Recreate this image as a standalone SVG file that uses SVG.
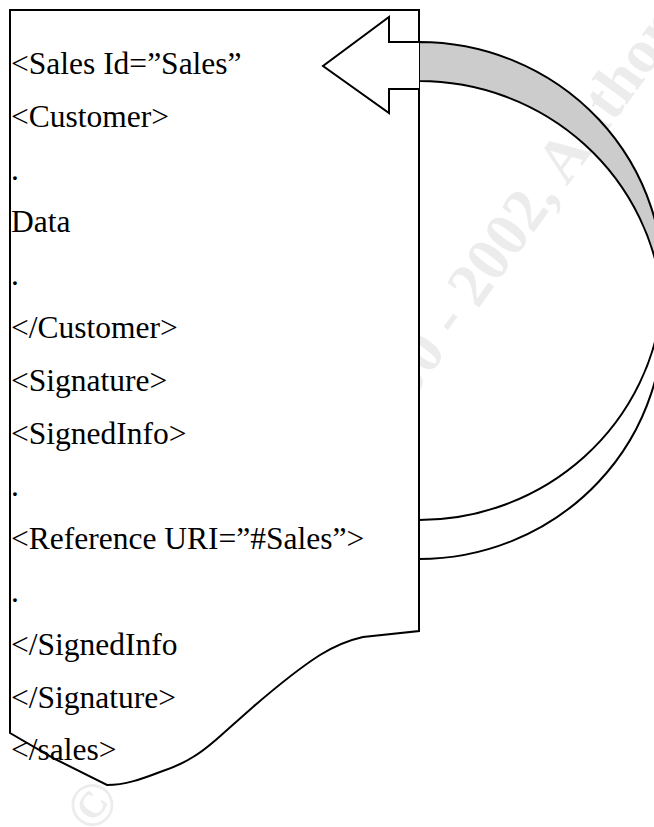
<svg xmlns="http://www.w3.org/2000/svg" width="654" height="827" viewBox="0 0 654 827">
  <style>
    .ln { stroke: #000; stroke-width: 2; stroke-linejoin: miter; }
    .code { font-family: "Liberation Serif", "Times New Roman", serif; font-size: 31.5px; fill: #000; }
    .wm { font-family: "Liberation Serif", "Times New Roman", serif; font-weight: bold; font-size: 62px; fill: #ececec; }
  </style>
  <rect x="0" y="0" width="654" height="827" fill="#fff"/>
  <g id="watermark">
    <text class="wm" x="95" y="836" transform="rotate(-54 95 836)">© SANS Institute 2000 - 2002, Author retains full rights</text>
  </g>
  <g id="document">
    <path class="ln" fill="#fff" d="M10,10 L419,10 L419,631 L363,637 C345,641 333,647 320,655 C298,669 275,688 253,707 C244,715 236,722 227,730 C215,741 205,750 193,757 C182,764 172,768 160,772 C142,779 125,785 107,785 L55,759 L10,733 Z"/>
    <text class="code" x="11" y="74">&lt;Sales Id=”Sales”</text>
    <text class="code" x="11" y="126.8">&lt;Customer&gt;</text>
    <text class="code" x="11" y="179.6">.</text>
    <text class="code" x="11" y="232.4">Data</text>
    <text class="code" x="11" y="285.2">.</text>
    <text class="code" x="11" y="338">&lt;/Customer&gt;</text>
    <text class="code" x="11" y="390.8">&lt;Signature&gt;</text>
    <text class="code" x="11" y="443.6">&lt;SignedInfo&gt;</text>
    <text class="code" x="11" y="496.4">.</text>
    <text class="code" x="11" y="549.2">&lt;Reference URI=”#Sales”&gt;</text>
    <text class="code" x="11" y="602">.</text>
    <text class="code" x="11" y="654.8">&lt;/SignedInfo</text>
    <text class="code" x="11" y="707.6">&lt;/Signature&gt;</text>
    <text class="code" x="11" y="760.4">&lt;/sales&gt;</text>
  </g>
  <g id="connectors">
    <path class="ln" fill="#fff" d="M662.2,300.5 A244,239 0 0 1 419,559 L419,520 A244,239 0 0 0 662.2,300.5 Z"/>
    <path class="ln" fill="#cccccc" d="M419,42 A244,239 0 0 1 662.2,300.5 A244,239 0 0 0 419,81 Z"/>
  </g>
  <g id="arrowhead">
    <path class="ln" fill="#fff" d="M419,42 L389,42 L389,17 L323,66 L389,113 L389,89 L419,89"/>
  </g>
</svg>
